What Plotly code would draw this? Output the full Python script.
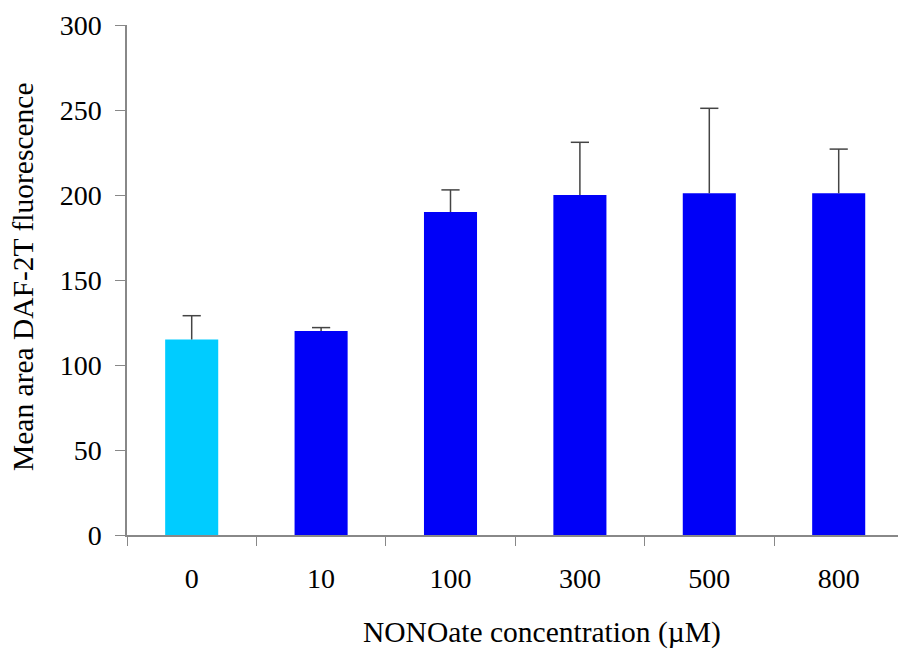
import plotly.graph_objects as go

# Data
concentrations = ["0", "10", "100", "300", "500", "800"]
mean_area = [115, 120, 190, 200, 201, 201]
error_up = [14, 2, 13, 31, 50, 26]
y_ticks = [0, 50, 100, 150, 200, 250, 300]

# Style
bar_colors = ["#00CCFF"] + ["#0000F8"] * 5
ERR_COLOR = "#444444"
FONT = "Liberation Serif, Times New Roman, serif"

W, H = 898, 649
L, R, T = 127, 0, 25
B = H - 535
plot_w = W - L - R
plot_h = H - T - B
cat_px = 129.4


def px_x(page_x):
    return (page_x - L) / plot_w


def px_y(page_y):
    return (535 - page_y) / plot_h


fig = go.Figure()
fig.add_trace(go.Bar(
    x=concentrations,
    y=mean_area,
    marker=dict(color=bar_colors, line=dict(width=0)),
))
# vertical whiskers (upward only, no cap at bar top)
fig.add_trace(go.Scatter(
    x=concentrations, y=mean_area, mode="markers",
    marker=dict(size=1, opacity=0),
    error_y=dict(type="data", symmetric=False, array=error_up,
                 arrayminus=[0] * len(error_up),
                 color=ERR_COLOR, thickness=1.5, width=0),
    hoverinfo="skip",
))
# caps on top of whiskers
fig.add_trace(go.Scatter(
    x=concentrations, y=[m + e for m, e in zip(mean_area, error_up)],
    mode="markers",
    marker=dict(symbol="line-ew", size=13,
                line=dict(color=ERR_COLOR, width=1.5)),
    hoverinfo="skip",
))

fig.update_layout(
    width=W, height=H,
    margin=dict(l=L, r=R, t=T, b=B),
    paper_bgcolor="white", plot_bgcolor="white",
    showlegend=False,
    bargap=0.59,
    font=dict(family=FONT, size=28, color="black"),
    xaxis=dict(
        type="category",
        range=[-0.5, -0.5 + plot_w / cat_px],
        automargin=False,
        showline=True, linecolor="#888888", linewidth=1.5,
        ticks="outside", ticklen=9, tickcolor="#888888", tickwidth=1,
        tickson="boundaries",
        ticklabelstandoff=18,
        tickfont=dict(family=FONT, size=28, color="black"),
        showgrid=False, zeroline=False,
    ),
    yaxis=dict(
        range=[0, 300],
        tickvals=y_ticks,
        automargin=False,
        showline=True, linecolor="#888888", linewidth=1.5,
        ticks="outside", ticklen=10, tickcolor="#888888", tickwidth=1,
        ticklabelstandoff=8,
        tickfont=dict(family=FONT, size=28, color="black"),
        showgrid=False, zeroline=False,
    ),
    annotations=[
        dict(text="NONOate concentration (\u00b5M)", xref="paper", yref="paper",
             x=px_x(542), y=px_y(632),
             xanchor="center", yanchor="middle", showarrow=False,
             font=dict(family=FONT, size=29.5, color="black")),
        dict(text="Mean area DAF-2T fluorescence", xref="paper", yref="paper",
             x=px_x(23), y=px_y(277),
             xanchor="center", yanchor="middle", showarrow=False, textangle=-90,
             font=dict(family=FONT, size=29.5, color="black")),
    ],
)

fig.write_html(
    "out.html",
    config={"displayModeBar": False},
    post_script="document.body.style.margin='0';document.body.style.overflow='hidden';",
)
